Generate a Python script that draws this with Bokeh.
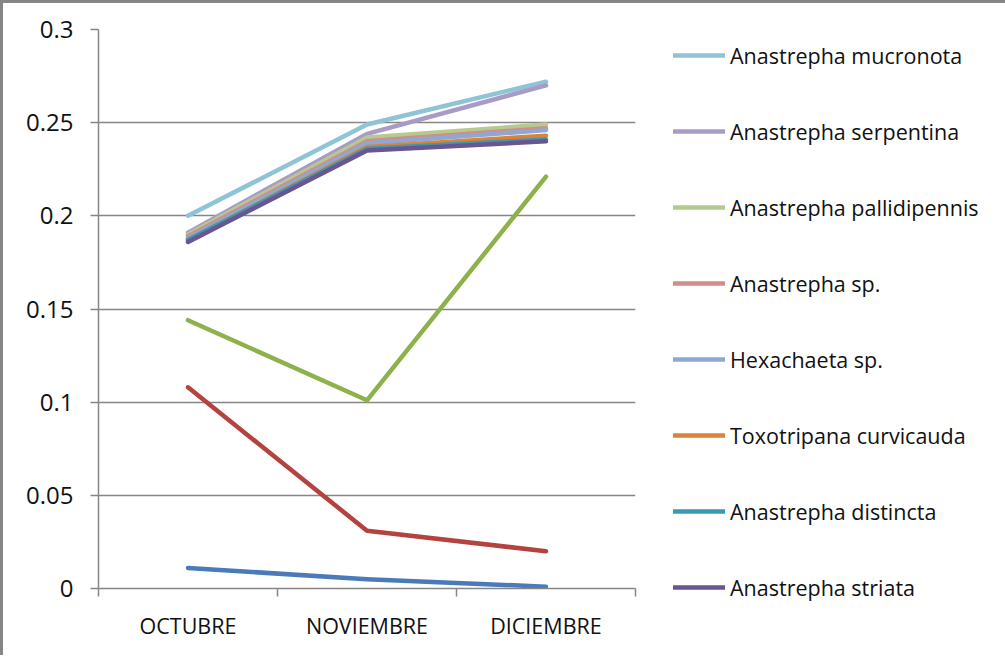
from bokeh.plotting import figure
from bokeh.models import Range1d, FixedTicker, Legend, LegendItem
from bokeh.embed import file_html
from bokeh.resources import INLINE

# ---- data ----
months = ["OCTUBRE", "NOVIEMBRE", "DICIEMBRE"]
y_ticks = [0, 0.05, 0.1, 0.15, 0.2, 0.25, 0.3]
y_tick_labels = ["0", "0.05", "0.1", "0.15", "0.2", "0.25", "0.3"]

# series without visible legend entries (legend cropped)
serie_azul = [0.011, 0.005, 0.001]
serie_roja = [0.108, 0.031, 0.020]
serie_verde = [0.144, 0.101, 0.221]

mucronota = [0.200, 0.249, 0.272]
serpentina = [0.191, 0.244, 0.270]
pallidipennis = [0.190, 0.242, 0.249]
anastrepha_sp = [0.189, 0.240, 0.247]
hexachaeta = [0.188, 0.239, 0.246]
toxotripana = [0.187, 0.237, 0.243]
distincta = [0.187, 0.236, 0.241]
striata = [0.186, 0.235, 0.240]

legend_names = ["Anastrepha mucronota", "Anastrepha serpentina", "Anastrepha pallidipennis",
                "Anastrepha sp.", "Hexachaeta sp.", "Toxotripana curvicauda",
                "Anastrepha distincta", "Anastrepha striata"]
legend_values = [mucronota, serpentina, pallidipennis, anastrepha_sp, hexachaeta,
                 toxotripana, distincta, striata]
legend_colors = ["#8EC4D6", "#A99BC7", "#B5CB8E", "#D18C8B", "#8EA8D3",
                 "#DE8237", "#3B98B1", "#6B5591"]

unnamed_values = [serie_azul, serie_roja, serie_verde]
unnamed_colors = ["#4A7AB8", "#B4423F", "#8DB14B"]

FONT = "Open Sans"
GRAY = "#868686"

x_pos = [i + 0.5 for i in range(len(months))]

p = figure(frame_width=537, frame_height=559, output_backend="svg", toolbar_location=None,
           x_range=Range1d(0, len(months)), y_range=Range1d(0, 0.3),
           min_border_left=95, min_border_right=0, min_border_top=26, min_border_bottom=67)
p.styles = {"border-top": f"3px solid {GRAY}", "border-left": f"3px solid {GRAY}"}
p.outline_line_color = None
p.background_fill_color = "white"
p.border_fill_color = "white"

# x axis: labels at category centres, ticks at category boundaries
p.xaxis.ticker = FixedTicker(ticks=x_pos, minor_ticks=list(range(len(months) + 1)))
p.xaxis.major_label_overrides = {x: m for x, m in zip(x_pos, months)}
p.xaxis.major_tick_line_color = None
p.xaxis.major_tick_out = 8
p.xaxis.major_tick_in = 0
p.xaxis.minor_tick_line_color = GRAY
p.xaxis.minor_tick_line_width = 1.5
p.xaxis.minor_tick_out = 8
p.xaxis.minor_tick_in = 0
p.xaxis.axis_line_color = GRAY
p.xaxis.axis_line_width = 1.5
p.xaxis.major_label_text_font = FONT
p.xaxis.major_label_text_font_size = "21.5px"
p.xaxis.major_label_text_color = "#111111"
p.xaxis.major_label_standoff = 14
p.xgrid.grid_line_color = None

# y axis
p.yaxis.ticker = FixedTicker(ticks=y_ticks)
p.yaxis.major_label_overrides = {t: l for t, l in zip(y_ticks, y_tick_labels)}
p.yaxis.minor_tick_line_color = None
p.yaxis.major_tick_out = 8
p.yaxis.major_tick_in = 0
p.yaxis.major_tick_line_color = GRAY
p.yaxis.major_tick_line_width = 1.5
p.yaxis.axis_line_color = GRAY
p.yaxis.axis_line_width = 1.5
p.yaxis.major_label_text_font = FONT
p.yaxis.major_label_text_font_size = "24px"
p.yaxis.major_label_text_color = "#111111"
p.yaxis.major_label_standoff = 17
p.ygrid.grid_line_color = GRAY
p.ygrid.grid_line_width = 1.5

for vals, col in zip(unnamed_values, unnamed_colors):
    p.line(x_pos, vals, line_color=col, line_width=4.5, line_join="round", line_cap="round")

items = []
for name, vals, col in zip(legend_names, legend_values, legend_colors):
    r = p.line(x_pos, vals, line_color=col, line_width=4.5, line_join="round", line_cap="round")
    items.append(LegendItem(label=name, renderers=[r]))

legend = Legend(items=items, location=(38, -14), orientation="vertical",
                glyph_width=52, glyph_height=30, label_height=30, spacing=46,
                label_standoff=5, padding=0, margin=0,
                border_line_color=None, background_fill_alpha=0,
                label_text_font=FONT, label_text_font_size="21.5px",
                label_text_color="#111111")
p.add_layout(legend, "right")

open("out.html", "w").write(file_html(p, INLINE))
